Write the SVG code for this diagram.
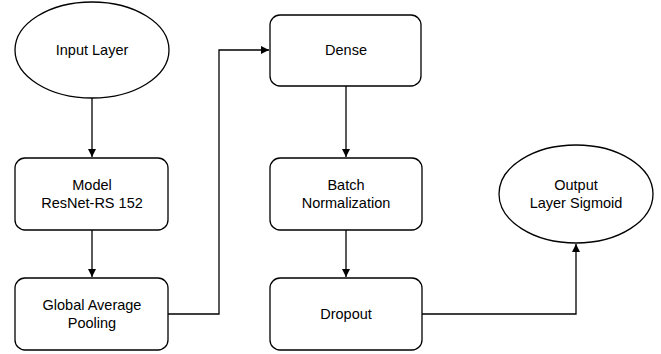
<svg xmlns="http://www.w3.org/2000/svg" width="661" height="354" viewBox="0 0 661 354">
<style>
.n{fill:#fff;stroke:#000;stroke-width:1.3}
.t{font-family:"Liberation Sans",Arial,sans-serif;font-size:14.5px;fill:#000;text-anchor:middle;dominant-baseline:central}
.c{fill:none;stroke:#000;stroke-width:1.3}
</style>
<defs>
<marker id="a" markerWidth="10" markerHeight="10" refX="8" refY="4" orient="auto" markerUnits="userSpaceOnUse">
<path d="M0,0 L8,4 L0,8 Z" fill="#000"/>
</marker>
</defs>
<rect width="661" height="354" fill="#fff"/>
<g id="connectors">
<path class="c" d="M92,98 V157" marker-end="url(#a)"/>
<path class="c" d="M92,230 V277" marker-end="url(#a)"/>
<path class="c" d="M168,314 H219 V50 H269" marker-end="url(#a)"/>
<path class="c" d="M346,86 V157" marker-end="url(#a)"/>
<path class="c" d="M346,230 V277" marker-end="url(#a)"/>
<path class="c" d="M421,314 H576 V244" marker-end="url(#a)"/>
</g>
<g id="input">
<ellipse class="n" cx="92" cy="50" rx="77" ry="48"/>
<text class="t" x="92" y="50">Input Layer</text>
</g>
<g id="model">
<rect class="n" x="15" y="158" width="153" height="72" rx="10"/>
<text class="t" x="92" y="185">Model</text>
<text class="t" x="92" y="203">ResNet-RS 152</text>
</g>
<g id="gap">
<rect class="n" x="15" y="278" width="153" height="72" rx="10"/>
<text class="t" x="92" y="305">Global Average</text>
<text class="t" x="92" y="323">Pooling</text>
</g>
<g id="dense">
<rect class="n" x="270" y="15" width="151" height="71" rx="10"/>
<text class="t" x="346" y="50">Dense</text>
</g>
<g id="batchnorm">
<rect class="n" x="270" y="158" width="152" height="72" rx="10"/>
<text class="t" x="346" y="185">Batch</text>
<text class="t" x="346" y="203">Normalization</text>
</g>
<g id="dropout">
<rect class="n" x="270" y="278" width="152" height="72" rx="10"/>
<text class="t" x="346" y="314">Dropout</text>
</g>
<g id="output">
<ellipse class="n" cx="576" cy="194" rx="77" ry="49"/>
<text class="t" x="576" y="185">Output</text>
<text class="t" x="576" y="203">Layer Sigmoid</text>
</g>
</svg>
